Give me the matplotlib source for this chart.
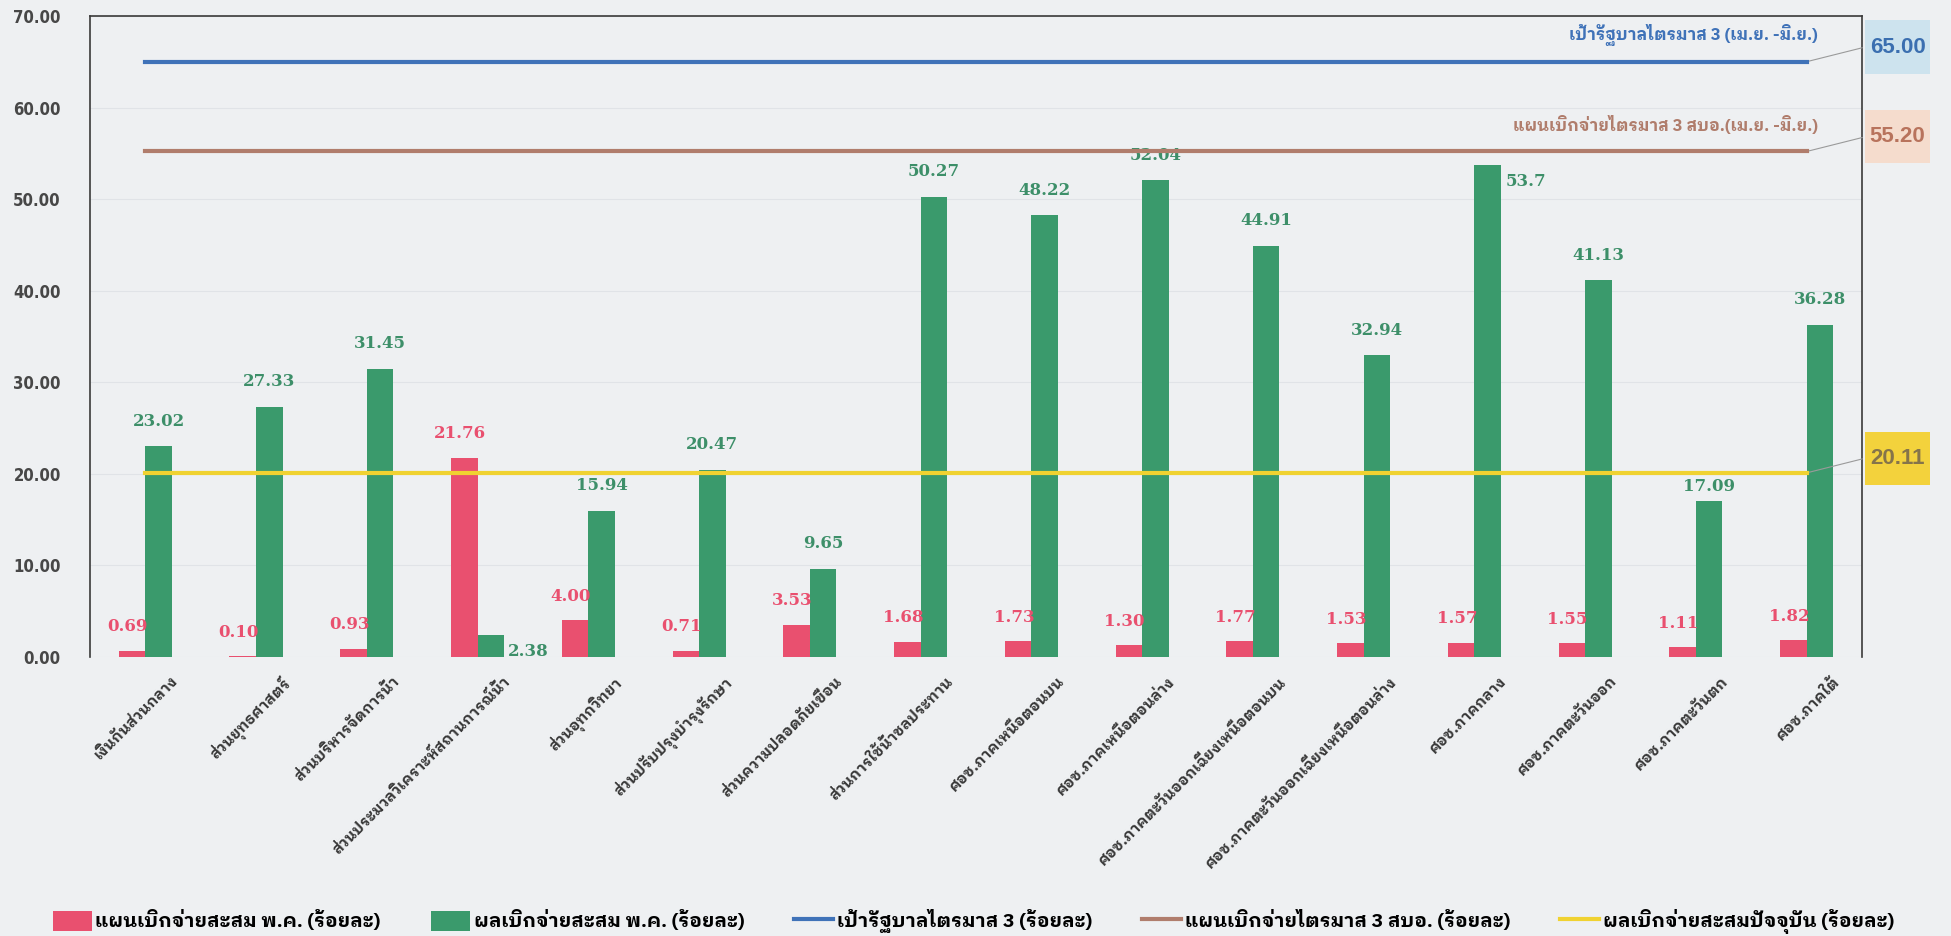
import matplotlib
matplotlib.use("Agg")
import matplotlib.pyplot as plt
from matplotlib import font_manager, ft2font
from matplotlib.patches import Rectangle
import matplotlib.transforms as mtransforms
import numpy as np

# data
categories = ["เงินกันส่วนกลาง", "ส่วนยุทธศาสตร์", "ส่วนบริหารจัดการน้ำ",
              "ส่วนประมวลวิเคราะห์สถานการณ์น้ำ", "ส่วนอุทกวิทยา",
              "ส่วนปรับปรุงบำรุงรักษา", "ส่วนความปลอดภัยเขื่อน",
              "ส่วนการใช้น้ำชลประทาน", "ศอช.ภาคเหนือตอนบน", "ศอช.ภาคเหนือตอนล่าง",
              "ศอช.ภาคตะวันออกเฉียงเหนือตอนบน", "ศอช.ภาคตะวันออกเฉียงเหนือตอนล่าง",
              "ศอช.ภาคกลาง", "ศอช.ภาคตะวันออก", "ศอช.ภาคตะวันตก", "ศอช.ภาคใต้"]
plan_pct = [0.69, 0.10, 0.93, 21.76, 4.00, 0.71, 3.53, 1.68,
            1.73, 1.30, 1.77, 1.53, 1.57, 1.55, 1.11, 1.82]
actual_pct = [23.02, 27.33, 31.45, 2.38, 15.94, 20.47, 9.65, 50.27,
              48.22, 52.04, 44.91, 32.94, 53.7, 41.13, 17.09, 36.28]
actual_text = ["23.02", "27.33", "31.45", "2.38", "15.94", "20.47", "9.65", "50.27",
               "48.22", "52.04", "44.91", "32.94", "53.7", "41.13", "17.09", "36.28"]
gov_target = 65.00
plan_q3 = 55.20
current_pct = 20.11

legend_names = ["แผนเบิกจ่ายสะสม พ.ค. (ร้อยละ)", "ผลเบิกจ่ายสะสม พ.ค. (ร้อยละ)",
                "เป้ารัฐบาลไตรมาส 3 (ร้อยละ)", "แผนเบิกจ่ายไตรมาส 3 สบอ. (ร้อยละ)",
                "ผลเบิกจ่ายสะสมปัจจุบัน (ร้อยละ)"]
gov_note = "เป้ารัฐบาลไตรมาส 3 (เม.ย. -มิ.ย.)"
plan_note = "แผนเบิกจ่ายไตรมาส 3 สบอ.(เม.ย. -มิ.ย.)"

# pick a thai font, prefer one that has a real bold face
thai_fams = {}
for f in font_manager.fontManager.ttflist:
    try:
        if 0x0E01 in ft2font.FT2Font(f.fname).get_charmap():
            w_ = f.weight if isinstance(f.weight, int) else 400
            thai_fams[f.name] = max(thai_fams.get(f.name, 0), w_)
    except Exception:
        pass
thai_font = None
prefs = ["Noto Sans Thai Looped", "IBM Plex Sans Thai Looped", "Loma", "Noto Sans Thai"]
for pref in prefs:
    if thai_fams.get(pref, 0) >= 600:
        thai_font = pref
        break
if thai_font is None:
    for pref in prefs:
        if pref in thai_fams:
            thai_font = pref
            break
if thai_font is None and thai_fams:
    thai_font = list(thai_fams)[0]
plt.rcParams['font.family'] = [thai_font, "DejaVu Sans"] if thai_font else ["DejaVu Sans"]

# colours
BG = "#eef0f2"
PINK = "#e9506f"
GREEN = "#3a9a6c"
BLUE = "#3f72b8"
BROWN = "#b07d6c"
YELLOW = "#f0d231"

fig = plt.figure(figsize=(19.51, 9.36), dpi=100, facecolor=BG)
ax = fig.add_axes([0.0461, 0.298, 0.9083, 0.685], facecolor=BG)

x = np.arange(len(categories))
w = 0.24
ax.bar(x - w / 2, plan_pct, w, color=PINK, label=legend_names[0], zorder=3)
ax.bar(x + w / 2, actual_pct, w, color=GREEN, label=legend_names[1], zorder=3)
ax.plot(x, [gov_target] * len(x), color=BLUE, lw=3, label=legend_names[2], zorder=4)
ax.plot(x, [plan_q3] * len(x), color=BROWN, lw=3, label=legend_names[3], zorder=4)
ax.plot(x, [current_pct] * len(x), color=YELLOW, lw=3, label=legend_names[4], zorder=4)

num_font = dict(family="DejaVu Serif", fontweight="bold", fontsize=12)
for i in range(len(x)):
    ax.annotate(f"{plan_pct[i]:.2f}", (x[i] - w / 2, plan_pct[i]), xytext=(-3, 11),
                textcoords="offset points", ha="center", va="bottom", color=PINK, **num_font)
    if i in (3, 12):
        ax.annotate(actual_text[i], (x[i] + w, actual_pct[i]), xytext=(3, -12),
                    textcoords="offset points", ha="left", va="center", color="#3d8f69", **num_font)
    else:
        dy = 4 if i == 14 else 12
        ax.annotate(actual_text[i], (x[i] + w / 2, actual_pct[i]), xytext=(0, dy),
                    textcoords="offset points", ha="center", va="bottom", color="#3d8f69", **num_font)

# line notes + value boxes on the right
trans = mtransforms.blended_transform_factory(ax.transAxes, ax.transData)
boxes = [(gov_target, gov_note, BLUE, "#cde3ee", "#3b6fb0"),
         (plan_q3, plan_note, BROWN, "#f5dccd", "#b8735c"),
         (current_pct, None, YELLOW, "#f3d23c", "#85744a")]
for val, note, lc, fc, tc in boxes:
    if note:
        ax.text(x[-1] + 0.1, val + 2.9, note, ha="right", va="center", color=lc,
                fontsize=12, fontweight="bold")
    ax.add_patch(Rectangle((1.0017, val - 1.3), 0.0367, 5.8, transform=trans,
                           facecolor=fc, edgecolor="none", clip_on=False, zorder=5))
    ax.text(1.0201, val + 1.6, f"{val:.2f}", transform=trans, ha="center", va="center",
            color=tc, fontsize=16, fontweight="bold", family="Liberation Sans", zorder=6)
    ax.annotate("", xy=(x[-1], val), xycoords="data", xytext=(1.0017, val + 1.6),
                textcoords=trans, arrowprops=dict(arrowstyle="-", color="#9a9a9a", lw=0.8),
                annotation_clip=False)

ax.set_xlim(-0.5, len(x) - 0.5)
ax.set_ylim(0, 70)
ax.set_yticks(np.arange(0, 71, 10))
ax.set_yticklabels([f"{v:.2f}" for v in np.arange(0, 71, 10)], fontsize=12,
                   fontweight="bold", color="#474747", family="DejaVu Sans",
                   fontstretch="condensed")
ax.tick_params(axis="y", length=0, pad=21)
ax.set_xticks(x)
ax.set_xticklabels(categories, rotation=45, ha="right", rotation_mode="anchor",
                   fontsize=10.8, fontweight="bold", color="#383838")
ax.tick_params(axis="x", length=0, pad=12)
shift = mtransforms.ScaledTranslation(0.25, 0, fig.dpi_scale_trans)
for lbl in ax.get_xticklabels():
    lbl.set_transform(lbl.get_transform() + shift)
ax.grid(axis="y", color="#e0e3e7", lw=0.8, zorder=0)
for s in ["left", "top", "right"]:
    ax.spines[s].set_color("#3a3a3a")
    ax.spines[s].set_linewidth(1.2)
ax.spines["bottom"].set_visible(False)

handles, labels = ax.get_legend_handles_labels()
order = [3, 4, 0, 1, 2]
fig.legend([handles[i] for i in order], [labels[i] for i in order], loc="center",
           bbox_to_anchor=(0.018, 0.0, 0.962, 0.03), mode="expand", ncol=5, frameon=False,
           handlelength=2.0, handleheight=1.2, handletextpad=0.2,
           prop=dict(weight="bold", size=14))

fig.savefig("out.png", dpi=100, facecolor=BG)
